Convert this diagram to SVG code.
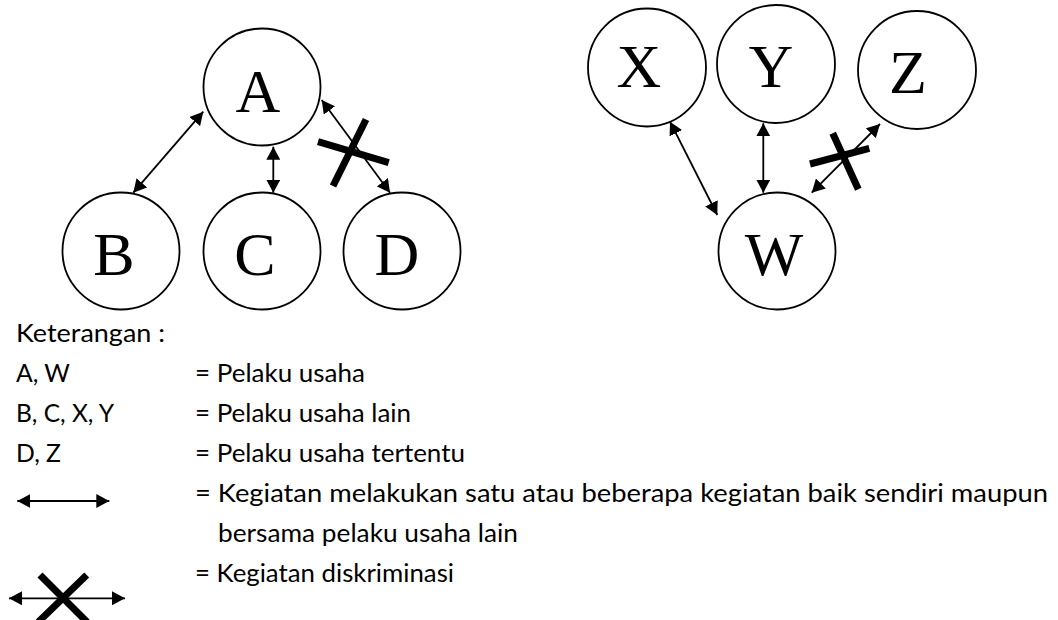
<svg xmlns="http://www.w3.org/2000/svg" width="1058" height="620" viewBox="0 0 1058 620">
<style>
.node circle{fill:#fff;stroke:#000;stroke-width:1.8}
.node text{font-family:"Liberation Serif","Times New Roman",serif;font-size:62px;fill:#000;text-anchor:middle}
.conn{stroke:#000;stroke-width:1.8;fill:none;marker-start:url(#ah);marker-end:url(#ah)}
.bar{stroke:#000;stroke-width:7;fill:none}
.lg{font-family:Lato,"Noto Sans",sans-serif;font-size:24.5px;fill:#000}
</style>
<defs>
<marker id="ah" markerUnits="userSpaceOnUse" markerWidth="14" markerHeight="14" refX="13" refY="7" orient="auto-start-reverse" viewBox="0 0 14 14">
<path d="M0,0 L13,7 L0,14 z" fill="#000"/>
</marker>
</defs>
<rect width="1058" height="620" fill="#fff"/>
<g id="connectors">
<line class="conn" x1="203.3" y1="111.7" x2="133.3" y2="192.7"/>
<line class="conn" x1="273.3" y1="146.7" x2="273.3" y2="192.7"/>
<line class="conn" x1="321.7" y1="100" x2="390" y2="192.7"/>
<line class="bar" x1="318" y1="141.7" x2="388.7" y2="162.7"/>
<line class="bar" x1="366" y1="119.5" x2="333" y2="186"/>
<line class="conn" x1="670" y1="121.7" x2="717.3" y2="215"/>
<line class="conn" x1="763.3" y1="123.3" x2="763.3" y2="192.7"/>
<line class="conn" x1="880" y1="124" x2="811.7" y2="192.7"/>
<line class="bar" x1="810" y1="164" x2="869.3" y2="148.3"/>
<line class="bar" x1="832.7" y1="133.3" x2="858.3" y2="189.3"/>
</g>
<g id="node-A" class="node"><circle cx="262" cy="87" r="58.5"/><text x="258" y="112">A</text></g>
<g id="node-B" class="node"><circle cx="121" cy="251" r="58.5"/><text x="114" y="275">B</text></g>
<g id="node-C" class="node"><circle cx="262" cy="251" r="58.5"/><text x="255" y="275">C</text></g>
<g id="node-D" class="node"><circle cx="402" cy="251" r="58.5"/><text x="397" y="275">D</text></g>
<g id="node-X" class="node"><circle cx="647" cy="67.5" r="59"/><text x="639" y="87.3">X</text></g>
<g id="node-Y" class="node"><circle cx="776" cy="64" r="59"/><text x="771" y="87.3">Y</text></g>
<g id="node-Z" class="node"><circle cx="917" cy="70" r="59"/><text x="908" y="93.3">Z</text></g>
<g id="node-W" class="node"><circle cx="777" cy="251" r="58.5"/><text x="774" y="275">W</text></g>
<g id="legend">
<text class="lg" x="16" y="341.7" textLength="149" lengthAdjust="spacingAndGlyphs">Keterangan :</text>
<text class="lg" x="16" y="381.7" textLength="54" lengthAdjust="spacingAndGlyphs">A, W</text>
<text class="lg" x="16" y="421.7" textLength="98" lengthAdjust="spacingAndGlyphs">B, C, X, Y</text>
<text class="lg" x="16" y="461.7" textLength="45" lengthAdjust="spacingAndGlyphs">D, Z</text>
<text class="lg" x="195" y="381.7" textLength="170" lengthAdjust="spacingAndGlyphs">= Pelaku usaha</text>
<text class="lg" x="195" y="421.7" textLength="216" lengthAdjust="spacingAndGlyphs">= Pelaku usaha lain</text>
<text class="lg" x="195" y="461.7" textLength="270" lengthAdjust="spacingAndGlyphs">= Pelaku usaha tertentu</text>
<text class="lg" x="195" y="501.7" textLength="853" lengthAdjust="spacingAndGlyphs">= Kegiatan melakukan satu atau beberapa kegiatan baik sendiri maupun</text>
<text class="lg" x="218" y="541.7" textLength="300" lengthAdjust="spacingAndGlyphs">bersama pelaku usaha lain</text>
<text class="lg" x="195" y="581.7" textLength="259" lengthAdjust="spacingAndGlyphs">= Kegiatan diskriminasi</text>
<line class="conn" x1="17.3" y1="501" x2="109.3" y2="501"/>
<line class="conn" x1="9" y1="598.3" x2="125" y2="598.3"/>
<line class="bar" stroke-width="8" x1="40" y1="575" x2="87" y2="622"/>
<line class="bar" stroke-width="8" x1="86.7" y1="575" x2="38.3" y2="622"/>
</g>
</svg>
